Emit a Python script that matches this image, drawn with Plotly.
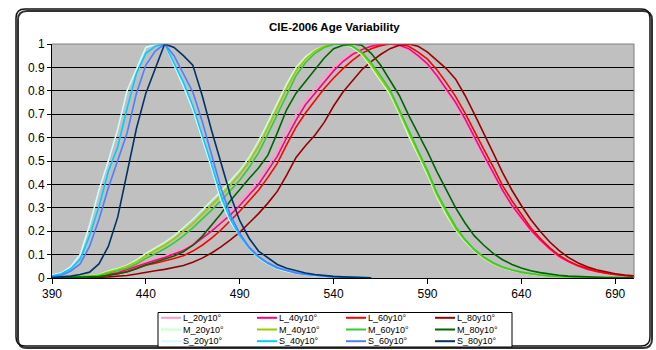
import plotly.graph_objects as go

# Wavelength grids (nm)
wl = list(range(390, 701, 5))
wl_s = list(range(390, 561, 5))

# L-cone sensitivities by observer age (10 deg field)
L_20 = [.001, .002, .004, .006, .009, .013, .018, .025, .042, .055, .07, .082, .095, .11, .125, .15, .18, .215, .25, .29,
        .33, .37, .42, .48, .54, .63, .70, .76, .81, .86, .90, .935, .96, .98, .99, .997, 1.0, .99, .975, .945,
        .91, .86, .80, .74, .67, .59, .515, .44, .37, .305, .25, .20, .16, .12, .09, .068, .05, .037, .027, .02,
        .014, .01, .007]
L_40 = [.001, .002, .003, .005, .008, .011, .016, .022, .036, .05, .065, .076, .088, .102, .118, .14, .17, .2, .235, .27,
        .31, .355, .40, .46, .52, .60, .675, .74, .79, .84, .885, .925, .955, .975, .99, .998, 1.0, .995, .98, .95,
        .915, .865, .81, .75, .68, .60, .525, .45, .375, .31, .255, .205, .163, .125, .093, .07, .052, .038, .028, .02,
        .015, .011, .008]
L_60 = [.001, .001, .002, .004, .006, .009, .013, .018, .028, .04, .055, .063, .072, .083, .095, .115, .14, .17, .205, .245,
        .285, .33, .375, .43, .49, .57, .645, .705, .76, .81, .855, .895, .93, .96, .98, .993, 1.0, 1.0, .99, .965,
        .935, .89, .835, .775, .705, .625, .55, .475, .395, .33, .27, .215, .17, .13, .098, .073, .054, .04, .029, .021,
        .015, .011, .008]
L_80 = [.0003, .0005, .001, .0015, .002, .003, .005, .007, .011, .017, .025, .031, .037, .044, .053, .067, .085, .107, .133, .163,
        .195, .235, .275, .32, .37, .44, .515, .565, .61, .665, .735, .795, .845, .89, .925, .955, .98, .995, 1.0, .99,
        .965, .93, .895, .85, .78, .70, .62, .535, .45, .375, .31, .25, .20, .155, .118, .088, .065, .048, .035, .025,
        .018, .013, .009]

# M-cone sensitivities
M_20 = [.002, .003, .005, .007, .01, .015, .03, .04, .055, .077, .105, .128, .152, .18, .213, .25, .29, .33, .37, .415,
        .46, .515, .585, .665, .75, .83, .90, .945, .975, .99, .998, 1.0, .985, .955, .90, .845, .785, .70, .605, .525,
        .44, .345, .27, .205, .155, .115, .083, .06, .044, .032, .023, .016, .011, .008, .0055, .004, .0028, .002, .0014, .001,
        .0007, .0005, .0003]
M_40 = [.0015, .0025, .004, .006, .009, .013, .026, .036, .05, .07, .095, .117, .14, .167, .198, .232, .272, .312, .352, .397,
        .442, .497, .562, .642, .727, .81, .885, .935, .97, .99, 1.0, 1.0, .99, .96, .91, .855, .795, .71, .62, .535,
        .45, .355, .28, .21, .16, .118, .086, .062, .045, .033, .024, .017, .012, .008, .006, .004, .003, .002, .0015, .001,
        .0007, .0005, .0003]
M_60 = [.001, .002, .003, .005, .007, .01, .02, .029, .042, .06, .084, .104, .125, .15, .18, .214, .25, .29, .33, .374,
        .418, .472, .535, .615, .70, .785, .865, .92, .96, .985, .998, 1.0, .99, .965, .92, .865, .805, .72, .63, .545,
        .46, .365, .29, .22, .165, .122, .09, .065, .047, .034, .025, .018, .013, .009, .006, .0045, .003, .002, .0015, .001,
        .0008, .0005, .0004]
M_80 = [.0005, .001, .0015, .0025, .004, .006, .011, .017, .026, .04, .056, .068, .08, .094, .112, .14, .178, .225, .275, .33,
        .38, .425, .47, .525, .62, .72, .79, .84, .89, .94, .98, .995, 1.0, .995, .96, .91, .845, .78, .695, .62,
        .54, .455, .375, .30, .235, .18, .14, .105, .078, .058, .043, .031, .023, .016, .012, .008, .006, .004, .003, .002,
        .0015, .001, .0008]

# S-cone sensitivities
S_20 = [.012, .022, .048, .10, .225, .375, .50, .635, .80, .895, .985, .998, 1.0, .91, .82, .72, .60, .47, .33, .24,
        .18, .125, .085, .06, .04, .028, .02, .014, .01, .007, .005, .003, .002, .001, .0007]
S_40 = [.009, .018, .04, .08, .18, .305, .455, .56, .725, .875, .96, .99, 1.0, .92, .835, .735, .615, .485, .35, .25,
        .18, .127, .088, .062, .042, .03, .021, .015, .011, .008, .005, .003, .002, .001, .0007]
S_60 = [.006, .012, .03, .06, .135, .25, .385, .50, .62, .79, .91, .97, 1.0, .95, .87, .795, .67, .53, .385, .27,
        .19, .132, .092, .065, .045, .032, .022, .016, .011, .008, .005, .003, .002, .001, .0007]
S_80 = [.002, .004, .008, .015, .025, .06, .135, .26, .45, .64, .79, .895, 1.0, .985, .95, .91, .78, .63, .49, .355,
        .245, .17, .115, .085, .058, .042, .03, .021, .015, .01, .007, .005, .003, .002, .001]

x_ticks = [390, 440, 490, 540, 590, 640, 690]
y_ticks = [0, 0.1, 0.2, 0.3, 0.4, 0.5, 0.6, 0.7, 0.8, 0.9, 1]
y_labels = ["0", "0.1", "0.2", "0.3", "0.4", "0.5", "0.6", "0.7", "0.8", "0.9", "1"]

series = [
    ("L_20y10°", wl, L_20, "#FF99CC"),
    ("L_40y10°", wl, L_40, "#FF0080"),
    ("L_60y10°", wl, L_60, "#FF0000"),
    ("L_80y10°", wl, L_80, "#990000"),
    ("M_20y10°", wl, M_20, "#CCFFCC"),
    ("M_40y10°", wl, M_40, "#99CC00"),
    ("M_60y10°", wl, M_60, "#33CC33"),
    ("M_80y10°", wl, M_80, "#006600"),
    ("S_20y10°", wl_s, S_20, "#CCFFFF"),
    ("S_40y10°", wl_s, S_40, "#00CCFF"),
    ("S_60y10°", wl_s, S_60, "#4F7FFF"),
    ("S_80y10°", wl_s, S_80, "#003366"),
]

W, H = 656, 350
ML, MR, MT, MB = 52, 22, 44, 72
PW, PH = W - ML - MR, H - MT - MB


def px(x):
    return (x - ML) / PW


def py(y):
    return (H - MB - y) / PH


FONT = "Liberation Sans, Arial, sans-serif"

fig = go.Figure()
for name, xs, ys, col in series:
    fig.add_trace(go.Scatter(x=xs, y=ys, mode="lines", name=name,
                             line=dict(color=col, width=1.6), showlegend=False))

shapes = []


def rounded(x0, y0, x1, y1, r):
    """Closed SVG path of a rounded rectangle given in pixel coordinates."""
    rx, ry = r / PW, r / PH
    X0, X1, Y0, Y1 = px(x0), px(x1), py(y0), py(y1)
    return (f"M {X0 + rx} {Y0} L {X1 - rx} {Y0} Q {X1} {Y0} {X1} {Y0 - ry} "
            f"L {X1} {Y1 + ry} Q {X1} {Y1} {X1 - rx} {Y1} "
            f"L {X0 + rx} {Y1} Q {X0} {Y1} {X0} {Y1 + ry} "
            f"L {X0} {Y0 - ry} Q {X0} {Y0} {X0 + rx} {Y0} Z")


# chart frame with rounded corners (shadow + outline)
shapes.append(dict(type="path", xref="paper", yref="paper", path=rounded(18, 11, 652, 348, 9),
                   line=dict(color="#333333", width=2)))
shapes.append(dict(type="path", xref="paper", yref="paper", path=rounded(16, 9, 650, 346, 9),
                   line=dict(color="#111111", width=1.5)))

# plot area top and right border
shapes.append(dict(type="line", xref="paper", yref="paper", x0=0, x1=1, y0=1, y1=1,
                   line=dict(color="#808080", width=1)))
shapes.append(dict(type="line", xref="paper", yref="paper", x0=1, x1=1, y0=0, y1=1,
                   line=dict(color="#808080", width=1)))

# legend box
shapes.append(dict(type="rect", xref="paper", yref="paper",
                   x0=px(158), x1=px(512), y0=py(312.5), y1=py(347),
                   line=dict(color="black", width=1), fillcolor="white"))

annotations = [dict(text="<b>CIE-2006 Age Variability</b>", xref="paper", yref="paper",
                    x=px(334), y=py(27), xanchor="center", yanchor="middle", showarrow=False,
                    font=dict(family=FONT, size=11.5, color="black"))]

# legend: 4 columns x 3 rows, one text block per column
LEG_FONT = 9
line_h = LEG_FONT * 1.3
col_text_x = [182, 278, 367, 456]
mid_y = 329.5
row_y = [mid_y - line_h, mid_y, mid_y + line_h]
for c in range(4):
    names = []
    for r in range(3):
        name, xs, ys, col = series[r * 4 + c]
        names.append(name)
        tx, ty = col_text_x[c], row_y[r]
        shapes.append(dict(type="line", xref="paper", yref="paper",
                           x0=px(tx - 21), x1=px(tx - 1), y0=py(ty), y1=py(ty),
                           line=dict(color=col, width=2)))
    annotations.append(dict(text="<br>".join(names), xref="paper", yref="paper",
                            x=px(col_text_x[c]), y=py(mid_y), xanchor="left", yanchor="middle",
                            align="left", showarrow=False, borderpad=0,
                            font=dict(family=FONT, size=LEG_FONT, color="black")))

fig.update_layout(
    width=W, height=H,
    margin=dict(l=ML, r=MR, t=MT, b=MB, pad=0),
    paper_bgcolor="white", plot_bgcolor="#C0C0C0",
    showlegend=False,
    shapes=shapes, annotations=annotations,
    xaxis=dict(range=[390, 700], tickvals=x_ticks, ticktext=[str(v) for v in x_ticks],
               showgrid=False, zeroline=False, showline=True, linecolor="black", linewidth=1,
               ticks="outside", ticklen=5, tickcolor="black",
               tickfont=dict(family=FONT, size=12, color="black")),
    yaxis=dict(range=[0, 1], tickvals=y_ticks, ticktext=y_labels,
               showgrid=True, gridcolor="black", gridwidth=1, zeroline=False,
               showline=True, linecolor="black", linewidth=1,
               ticks="outside", ticklen=4, tickcolor="black",
               tickfont=dict(family=FONT, size=12, color="black")),
)

fig.write_html("out.html")
